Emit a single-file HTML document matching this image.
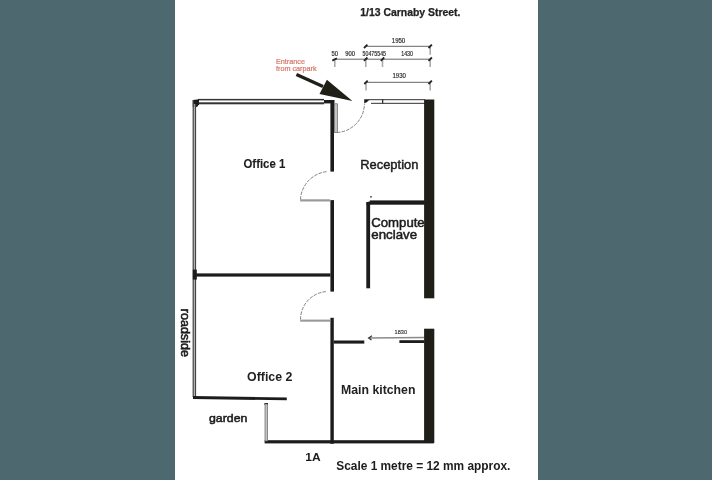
<!DOCTYPE html>
<html><head><meta charset="utf-8">
<style>
html,body{margin:0;padding:0;width:712px;height:480px;overflow:hidden;background:#4e6870;}
svg{position:absolute;left:0;top:0;filter:blur(0.4px);}
text{font-family:"Liberation Sans",sans-serif;fill:#1c1c1c;}
</style></head><body>
<svg width="712" height="480" viewBox="0 0 712 480">
<rect x="0" y="0" width="712" height="480" fill="#4e6870"/>
<rect x="175" y="0" width="363" height="480" fill="#ffffff"/>

<!-- title -->
<text x="360.2" y="16.2" font-size="10.1" font-weight="bold" textLength="100.3" lengthAdjust="spacingAndGlyphs" style="fill:#222;stroke:#222;stroke-width:0.25">1/13 Carnaby Street.</text>

<!-- dimensions -->
<g stroke="#555" stroke-width="0.9" fill="none">
  <line x1="365.6" y1="46.3" x2="430.2" y2="46.3"/>
  <line x1="333.5" y1="59.2" x2="430.2" y2="59.2"/>
  <line x1="366" y1="82.3" x2="430.2" y2="82.3"/>
</g>
<g stroke="#aaa" stroke-width="1.6" fill="none">
  <line x1="430.2" y1="46.5" x2="430.2" y2="54.8"/>
  <line x1="334.8" y1="59.5" x2="334.8" y2="67"/>
  <line x1="365.8" y1="59.5" x2="365.8" y2="67"/>
  <line x1="382.5" y1="59.5" x2="382.5" y2="67"/>
  <line x1="430.2" y1="59.5" x2="430.2" y2="67"/>
  <line x1="366" y1="82.5" x2="366" y2="90.4"/>
  <line x1="430.2" y1="82.5" x2="430.2" y2="90.4"/>
</g>
<g stroke="#222" stroke-width="1.8" fill="none">
  <line x1="364" y1="48" x2="367.4" y2="44.6"/>
  <line x1="428.5" y1="48" x2="431.9" y2="44.6"/>
  <line x1="332.3" y1="60.6" x2="336.9" y2="58.2"/>
  <line x1="364" y1="60.9" x2="367.4" y2="57.5"/>
  <line x1="380.8" y1="60.9" x2="384.2" y2="57.5"/>
  <line x1="428.5" y1="60.9" x2="431.9" y2="57.5"/>
  <line x1="364.3" y1="84" x2="367.7" y2="80.6"/>
  <line x1="428.5" y1="84" x2="431.9" y2="80.6"/>
</g>
<g font-size="6.3" style="fill:#3a3a3a;stroke:#3a3a3a;stroke-width:0.18">
  <text x="391.8" y="42.5" textLength="13.4" lengthAdjust="spacingAndGlyphs">1950</text>
  <text x="331.5" y="55.5" textLength="6.6" lengthAdjust="spacingAndGlyphs">50</text>
  <text x="345.2" y="55.5" textLength="9.8" lengthAdjust="spacingAndGlyphs">900</text>
  <text x="362.6" y="55.5" textLength="23.4" lengthAdjust="spacingAndGlyphs">50475545</text>
  <text x="401.2" y="55.5" textLength="11.8" lengthAdjust="spacingAndGlyphs">1430</text>
  <text x="392.5" y="78.3" textLength="13.4" lengthAdjust="spacingAndGlyphs">1930</text>
</g>

<!-- red label -->
<text x="276" y="64" font-size="7" textLength="29" lengthAdjust="spacingAndGlyphs" style="fill:#d8776b;stroke:#d8776b;stroke-width:0.2">Entrance</text>
<text x="276" y="71" font-size="7" textLength="40.6" lengthAdjust="spacingAndGlyphs" style="fill:#d8776b;stroke:#d8776b;stroke-width:0.2">from carpark</text>

<!-- big arrow -->
<line x1="296.4" y1="74.4" x2="323" y2="86.6" stroke="#1f1f17" stroke-width="3.3"/>
<polygon points="326.9,79.8 319.5,94 352.4,100.9" fill="#1f1f17"/>

<g fill="#1c1c1c">
  <!-- office 1 top wall double line -->
  <rect x="198" y="98.9" width="126" height="1.5" fill="#333"/>
  <rect x="198" y="102.3" width="126" height="2" fill="#333"/>
  <polygon points="192.8,100 199,99.2 199,104.3 197,107 192.8,107"/>
  <rect x="324" y="100" width="10.5" height="3.4"/>
  <!-- left wall double line -->
  <rect x="192.6" y="100" width="1.3" height="297" fill="#444"/>
  <rect x="194.9" y="104" width="1.2" height="293" fill="#444"/>
  <rect x="193.9" y="104" width="1" height="293" fill="#aaa"/>
  <rect x="192.8" y="269.6" width="4" height="10"/>
  <!-- office right wall -->
  <rect x="330.4" y="100" width="3.6" height="71.6"/>
  <rect x="330.4" y="200.1" width="3.6" height="91.5"/>
  <rect x="330.4" y="317.8" width="3.4" height="126"/>
  <!-- divider -->
  <rect x="193" y="273.4" width="137.5" height="3.2"/>
  <!-- entrance window wall -->
  <rect x="368" y="99.1" width="57" height="1.1" fill="#444"/>
  <rect x="371" y="102.8" width="54" height="1.1" fill="#444"/>
  <polygon points="364.2,99.3 368.5,99.3 368.5,100.5 366.5,102.5 364.2,103"/>
  <rect x="382" y="99.3" width="1.3" height="4.3" fill="#333"/>
  <!-- right thick wall -->
  <rect x="424.1" y="99.5" width="10.2" height="198.8" fill="#1f1f17"/>
  <rect x="424.1" y="328.7" width="10.2" height="114.3" fill="#1f1f17"/>
  <!-- compute enclave -->
  <rect x="369.8" y="200.4" width="55" height="4.3"/>
  <rect x="366.3" y="202.5" width="3.8" height="85.8"/>
  <polygon points="366.3,202.3 370.5,201.2 370.5,204.5 366.3,204.5"/>
  <circle cx="371" cy="196.8" r="0.9" fill="#333"/>
  <!-- kitchen top -->
  <rect x="333.8" y="340.5" width="30.5" height="3.1"/>
  <rect x="399.4" y="340.2" width="25" height="2.8"/>
  <!-- bottom walls -->
  <rect x="264.6" y="440.2" width="169.2" height="3.2"/>
  <polygon points="193,396 286.8,397.4 286.8,400.3 193,399"/>
  <rect x="264.5" y="403" width="3.5" height="2"/>
</g>
<!-- grey slabs -->
<g fill="#c4c4c4" stroke="#666" stroke-width="0.7">
  <rect x="334.4" y="103.8" width="3" height="28.6"/>
  <rect x="265" y="404" width="2.6" height="37"/>
</g>
<g fill="#999">
  <rect x="300.2" y="199.3" width="30" height="2.2"/>
  <rect x="300.2" y="319.6" width="30" height="2.1"/>
</g>
<g fill="none" stroke="#7a7a7a" stroke-width="0.95" stroke-dasharray="3.5,1.2">
  <path d="M337,132.5 A29,29 0 0 0 364.4,103.5"/>
  <path d="M300.5,199.5 A29.5,29.5 0 0 1 327,171.6"/>
  <path d="M300.5,319.5 A28,28 0 0 1 327,291.5"/>
</g>
<!-- kitchen dim arrow -->
<line x1="369" y1="338" x2="424" y2="337.6" stroke="#8a8a8a" stroke-width="1.5"/>
<polyline points="372,335.8 368.6,338 371.5,340" fill="none" stroke="#333" stroke-width="1.2"/>
<text x="394.6" y="334.2" font-size="5.8" textLength="12.4" lengthAdjust="spacingAndGlyphs" style="fill:#333;stroke:#333;stroke-width:0.15">1830</text>

<!-- room labels -->
<text x="243.5" y="167.5" font-size="12.2" font-weight="bold" textLength="41.8" lengthAdjust="spacingAndGlyphs" style="fill:#1e1e1e;stroke:#1e1e1e;stroke-width:0.12">Office 1</text>
<text x="360.2" y="169.1" font-size="13.1" textLength="58.2" lengthAdjust="spacingAndGlyphs" style="stroke:#1c1c1c;stroke-width:0.45">Reception</text>
<text x="371.3" y="226.5" font-size="12.5" textLength="53.4" lengthAdjust="spacingAndGlyphs" style="stroke:#1c1c1c;stroke-width:0.5">Compute</text>
<text x="371.3" y="238.9" font-size="12.5" textLength="45.8" lengthAdjust="spacingAndGlyphs" style="stroke:#1c1c1c;stroke-width:0.5">enclave</text>
<text x="247.1" y="381.3" font-size="13.2" font-weight="bold" textLength="45.3" lengthAdjust="spacingAndGlyphs" style="fill:#222">Office 2</text>
<text x="341" y="394.3" font-size="12.3" font-weight="bold" textLength="74.4" lengthAdjust="spacingAndGlyphs" style="fill:#222">Main kitchen</text>
<text x="209" y="421.8" font-size="11.8" textLength="38.4" lengthAdjust="spacingAndGlyphs" style="stroke:#1c1c1c;stroke-width:0.55">garden</text>
<text x="305.3" y="460.6" font-size="11.4" font-weight="bold" textLength="15.4" lengthAdjust="spacingAndGlyphs">1A</text>
<text x="336.3" y="470" font-size="12.4" font-weight="bold" textLength="174" lengthAdjust="spacingAndGlyphs">Scale 1 metre = 12 mm approx.</text>
<text transform="translate(180.6,308.8) rotate(90)" x="0" y="0" font-size="12" textLength="48.2" style="stroke:#1c1c1c;stroke-width:0.55" lengthAdjust="spacingAndGlyphs">roadside</text>
</svg>
</body></html>
